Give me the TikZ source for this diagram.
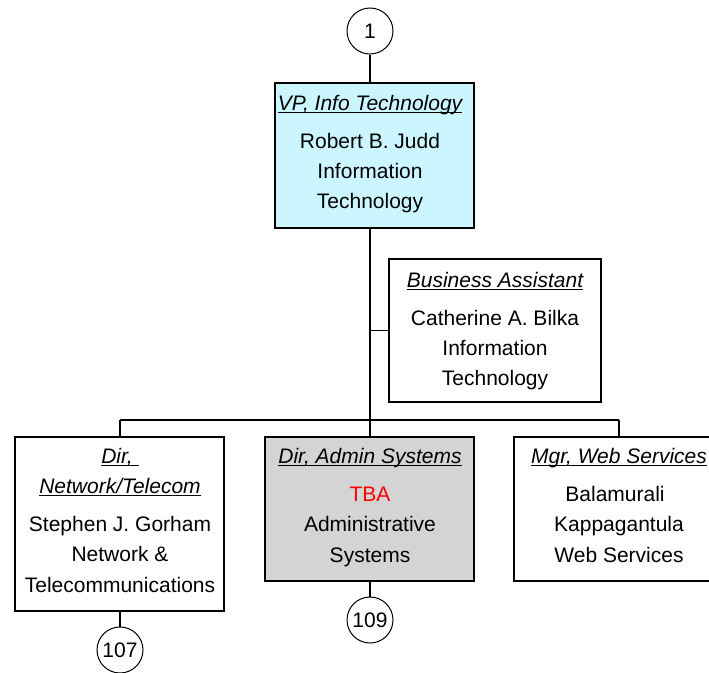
\documentclass[tikz,border=0pt]{standalone}
\usepackage{fontspec}
\setmainfont{Liberation Sans}
\definecolor{vpfill}{RGB}{204,246,255}
\definecolor{graybox}{RGB}{212,212,212}
\definecolor{tbared}{RGB}{255,0,0}
\newcommand{\ttlul}[1]{\setbox0\hbox{\itshape #1}\rlap{\rule[-3.4pt]{\wd0}{1.7pt}}\box0}
\tikzset{
  orgbox/.style={draw=black, line width=1.6pt, rectangle, inner sep=0pt},
  conn/.style={draw=black, line width=1.5pt},
  numcirc/.style={draw=black, line width=1pt, circle, minimum size=46pt, inner sep=0pt, fill=white, font=\fontsize{21}{25}\selectfont},
  txt/.style={anchor=base, inner sep=0pt, font=\fontsize{21}{25}\selectfont}
}
\begin{document}
\begin{tikzpicture}[x=1pt,y=-1pt]
\useasboundingbox (0,0) rectangle (709,672);
\clip (0,0) rectangle (709,672);
% boxes
\node[orgbox, fill=vpfill, minimum width=199pt, minimum height=145pt] (vp) at (374.5,155.5) {};
\node[orgbox, fill=white, minimum width=212pt, minimum height=143pt] (ba) at (495,330.5) {};
\node[orgbox, fill=white, minimum width=209pt, minimum height=174pt] (nt) at (119.5,524) {};
\node[orgbox, fill=graybox, minimum width=209pt, minimum height=144pt] (as) at (369.5,509) {};
\node[orgbox, fill=white, minimum width=210pt, minimum height=144pt] (ws) at (619,509) {};
% circles
\node[numcirc] (c1) at (370,31) {1};
\node[numcirc] (c107) at (120,650) {107};
\node[numcirc] (c109) at (370,620) {109};
% junction coordinates
\coordinate (jba) at (370,330.5);
\coordinate (jbar) at (370,420);
\coordinate (jl) at (120,420);
\coordinate (jr) at (619,420);
% connectors
\draw[conn] (c1.south) -- (vp.north -| c1.south);
\draw[conn] (vp.south -| jbar) -- (jbar);
\draw[conn] (jba) -- (ba.west);
\draw[conn] (jl) -- (jr);
\draw[conn] (jl) -- (nt.north -| jl);
\draw[conn] (jbar) -- (as.north -| jbar);
\draw[conn] (jr) -- (ws.north -| jr);
\draw[conn] (nt.south -| c107) -- (c107.north);
\draw[conn] (as.south -| c109) -- (c109.north);
% VP text
\node[txt] (vpt1) at (370,110) {\ttlul{VP, Info Technology}};
\node[txt] (vpt2) at (370,148) {Robert B. Judd};
\node[txt] (vpt3) at (370,178) {Information};
\node[txt] (vpt4) at (370,208) {Technology};
% Business assistant
\node[txt] (bat1) at (495,287) {\ttlul{Business Assistant}};
\node[txt] (bat2) at (495,325) {Catherine A. Bilka};
\node[txt] (bat3) at (495,355) {Information};
\node[txt] (bat4) at (495,385) {Technology};
% Network
\node[txt] (ntt1) at (120,463) {\ttlul{Dir,\ }};
\node[txt] (ntt2) at (120,493) {\ttlul{Network/Telecom}};
\node[txt] (ntt3) at (120,531) {Stephen J. Gorham};
\node[txt] (ntt4) at (120,561) {Network \&};
\node[txt] (ntt5) at (120,592) {Telecommunications};
% Admin systems
\node[txt] (ast1) at (370,463) {\ttlul{Dir, Admin Systems}};
\node[txt, text=tbared] (ast2) at (370,501) {TBA};
\node[txt] (ast3) at (370,531) {Administrative};
\node[txt] (ast4) at (370,562) {Systems};
% Web services
\node[txt] (wst1) at (619,463) {\ttlul{Mgr, Web Services}};
\node[txt] (wst2) at (615,501) {Balamurali};
\node[txt] (wst3) at (619,531) {Kappagantula};
\node[txt] (wst4) at (619,562) {Web Services};
\end{tikzpicture}
\end{document}
